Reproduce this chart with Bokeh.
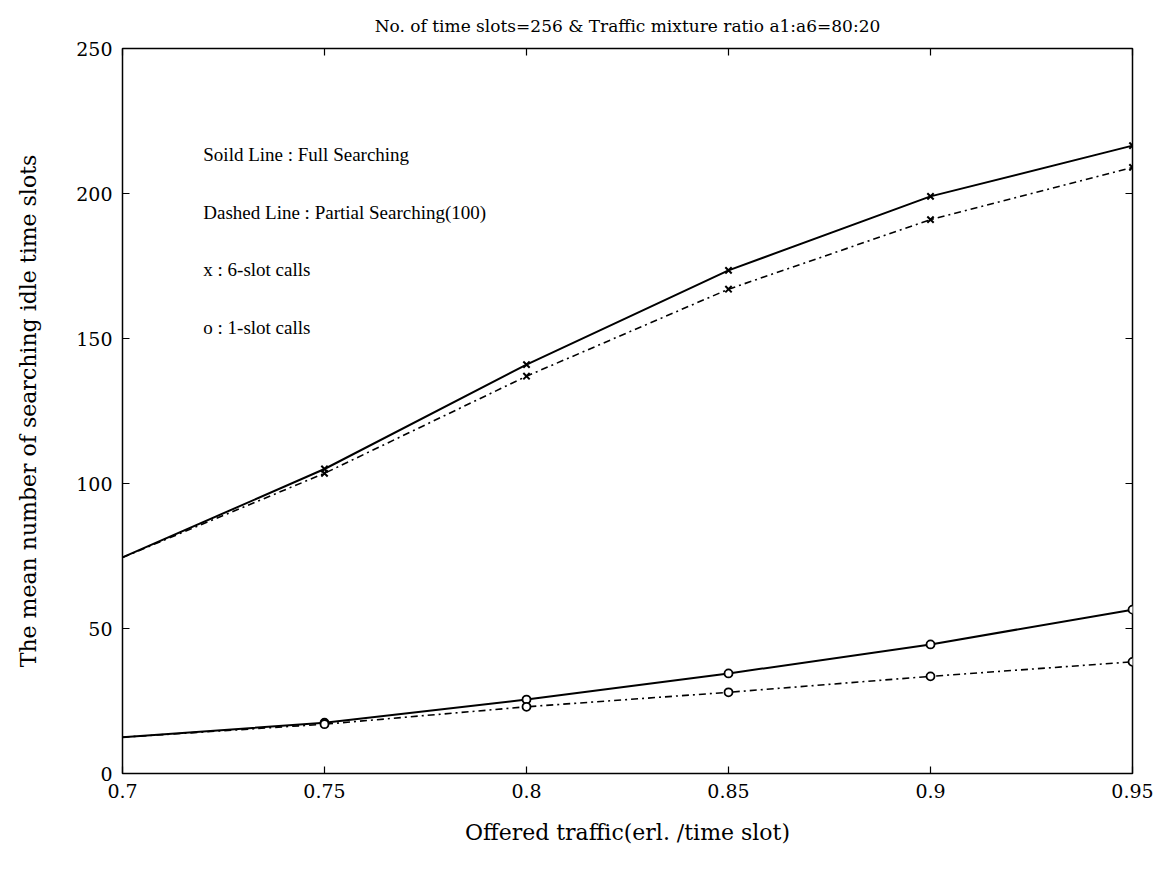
from bokeh.plotting import figure
from bokeh.models import LinearAxis, Range1d, Label, FixedTicker
from bokeh.embed import file_html
from bokeh.resources import INLINE

x_values = [0.7, 0.75, 0.8, 0.85, 0.9, 0.95]
full_6slot = [74.5, 105, 141, 173.5, 199, 216.5]
partial_6slot = [74.5, 103.5, 137, 167, 191, 209]
full_1slot = [12.5, 17.5, 25.5, 34.5, 44.5, 56.5]
partial_1slot = [12.5, 17, 23, 28, 33.5, 38.5]
x_ticks = [0.7, 0.75, 0.8, 0.85, 0.9, 0.95]
y_ticks = [0, 50, 100, 150, 200, 250]
notes = ["Soild Line : Full Searching", "Dashed Line : Partial Searching(100)",
         "x : 6-slot calls", "o : 1-slot calls"]

FONT = "DejaVu Serif"
NOTE_FONT = "Liberation Serif"

p = figure(frame_width=1010, frame_height=725, output_backend="svg", toolbar_location=None,
           x_range=Range1d(0.7, 0.95), y_range=Range1d(0, 250),
           min_border_left=122, min_border_right=25, min_border_top=48, min_border_bottom=93)
p.title.text = "No. of time slots=256 & Traffic mixture ratio a1:a6=80:20"
p.title.align = "center"
p.title.text_font = FONT
p.title.text_font_size = "17px"
p.title.text_font_style = "normal"
p.title.text_color = "black"
p.title.offset = 0
p.title.standoff = 25
p.grid.visible = False
p.outline_line_color = "black"
p.outline_line_width = 1.5
p.background_fill_color = "white"
p.border_fill_color = "white"

for ax in [p.xaxis[0], p.yaxis[0]]:
    ax.axis_line_color = None
    ax.major_tick_in = 7
    ax.major_tick_out = 0
    ax.minor_tick_in = 0
    ax.minor_tick_out = 0
    ax.major_tick_line_color = "black"
    ax.major_tick_line_width = 1.2
    ax.major_label_text_font = FONT
    ax.major_label_text_font_size = "19px"
    ax.major_label_text_color = "black"
    ax.axis_label_text_font = FONT
    ax.axis_label_text_font_size = "22px"
    ax.axis_label_text_font_style = "normal"
    ax.axis_label_text_color = "black"

p.xaxis[0].ticker = FixedTicker(ticks=x_ticks)
p.yaxis[0].ticker = FixedTicker(ticks=y_ticks)
p.xaxis[0].major_label_overrides = {0.7: "0.7", 0.75: "0.75", 0.8: "0.8", 0.85: "0.85", 0.9: "0.9", 0.95: "0.95"}
p.xaxis[0].axis_label = "Offered traffic(erl. /time slot)"
p.yaxis[0].axis_label = "The mean number of searching idle time slots"
p.xaxis[0].major_label_standoff = 10
p.xaxis[0].axis_label_standoff = 19
p.yaxis[0].major_label_standoff = 10
p.yaxis[0].axis_label_standoff = 32

top = LinearAxis(ticker=FixedTicker(ticks=x_ticks), major_label_text_font_size="0px",
                 axis_line_color=None, major_tick_in=7, major_tick_out=0,
                 minor_tick_in=0, minor_tick_out=0, major_tick_line_width=1.2)
right = LinearAxis(ticker=FixedTicker(ticks=y_ticks), major_label_text_font_size="0px",
                   axis_line_color=None, major_tick_in=7, major_tick_out=0,
                   minor_tick_in=0, minor_tick_out=0, major_tick_line_width=1.2)
p.add_layout(top, "above")
p.add_layout(right, "right")

DASH = "7 4 2 4"
p.line(x_values, full_6slot, line_color="black", line_width=2)
p.line(x_values, partial_6slot, line_color="black", line_width=1.6, line_dash=DASH)
p.line(x_values, full_1slot, line_color="black", line_width=2)
p.line(x_values, partial_1slot, line_color="black", line_width=1.6, line_dash=DASH)

p.scatter(x_values[1:], full_6slot[1:], marker="x", size=9, line_color="black", line_width=2)
p.scatter(x_values[1:], partial_6slot[1:], marker="x", size=9, line_color="black", line_width=2)
p.scatter(x_values[1:], full_1slot[1:], marker="circle", size=8, line_color="black",
          fill_color="white", line_width=1.8)
p.scatter(x_values[1:], partial_1slot[1:], marker="circle", size=8, line_color="black",
          fill_color="white", line_width=1.8)

note_y = [213.5, 193.5, 173.8, 153.8]
for txt, yv in zip(notes, note_y):
    p.add_layout(Label(x=0.72, y=yv, text=txt, text_font=NOTE_FONT, text_font_size="19px",
                       text_baseline="middle", text_color="black"))

open("out.html", "w").write(file_html(p, INLINE))
